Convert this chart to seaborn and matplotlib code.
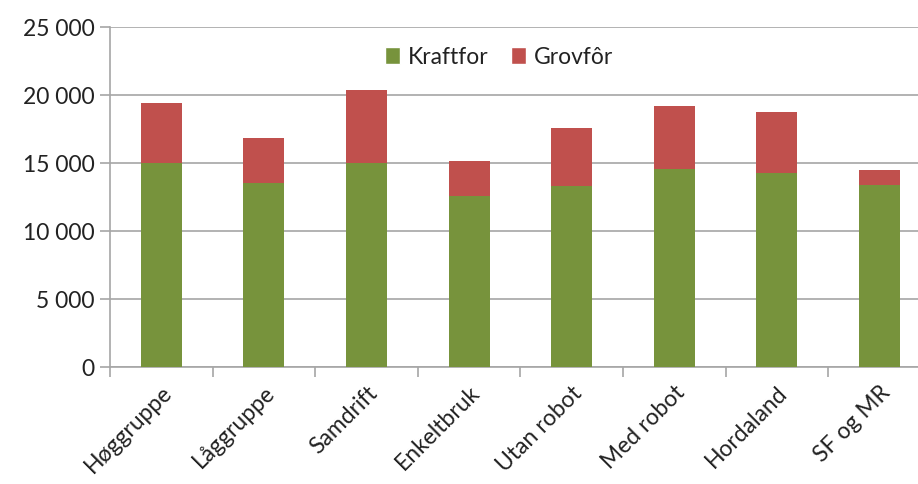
import matplotlib
matplotlib.use("Agg")
import matplotlib.pyplot as plt
import seaborn as sns
import pandas as pd
import numpy as np
from matplotlib.ticker import FuncFormatter, FixedLocator
from matplotlib.patches import Patch

categories = ["Høggruppe", "Låggruppe", "Samdrift", "Enkeltbruk", "Utan robot", "Med robot", "Hordaland", "SF og MR"]
kraftfor = [15000, 13520, 15020, 12570, 13350, 14550, 14280, 13430]
grovfor = [4450, 3310, 5390, 2620, 4240, 4630, 4510, 1100]
series_names = ["Kraftfor", "Grovfôr"]
yticks = [0, 5000, 10000, 15000, 20000, 25000]

green = "#77933C"
red = "#C0504D"

sns.set_style("white")
plt.rcParams['font.family'] = ['Lato', 'DejaVu Sans']

df = pd.DataFrame({"cat": categories, "Kraftfor": kraftfor, "Grovfor": grovfor})
df["total"] = df["Kraftfor"] + df["Grovfor"]

fig = plt.figure(figsize=(9.18, 4.84), dpi=100)
ax = fig.add_axes([110/918, 1 - 367/484, (8*102.6)/918, (367-27.3)/484])

sns.barplot(data=df, x="cat", y="total", color=red, saturation=1, width=0.4, ax=ax, zorder=3, linewidth=0)
sns.barplot(data=df, x="cat", y="Kraftfor", color=green, saturation=1, width=0.4, ax=ax, zorder=3, linewidth=0)

ax.set_xlim(-0.5, len(categories) - 0.5)
ax.set_ylim(0, 25000)
ax.set_yticks(yticks)
ax.yaxis.set_major_formatter(FuncFormatter(lambda v, p: f"{int(v):,}".replace(",", " ")))
ax.grid(axis="y", color="#a6a6a6", linewidth=1.2, zorder=0)
ax.set_axisbelow(True)
ax.set_xlabel("")
ax.set_ylabel("")

for s in ["top", "right"]:
    ax.spines[s].set_visible(False)
for s in ["left", "bottom"]:
    ax.spines[s].set_color("#a6a6a6")
    ax.spines[s].set_linewidth(1.2)

ax.tick_params(axis="y", which="major", length=7, color="#a6a6a6", width=1.2, labelsize=16.5, labelcolor="#222222", pad=4, direction="out", left=True)
ax.tick_params(axis="x", which="major", length=0, labelsize=16.5, labelcolor="#222222", pad=11)
ax.xaxis.set_minor_locator(FixedLocator(np.arange(-0.5, len(categories), 1.0)))
ax.tick_params(axis="x", which="minor", length=7, color="#a6a6a6", width=1.2, direction="out", bottom=True)
ax.set_xticks(range(len(categories)))
ax.set_xticklabels(categories, rotation=45, ha="right", rotation_mode="anchor")

handles = [Patch(facecolor=green, label=series_names[0]), Patch(facecolor=red, label=series_names[1])]
leg = fig.legend(handles=handles, loc="center", bbox_to_anchor=(499/918, 1 - 57/484), ncol=2, frameon=False,
                 fontsize=16.5, handlelength=0.65, handleheight=0.7, handletextpad=0.35, columnspacing=1.0)
for t in leg.get_texts():
    t.set_color("#222222")

fig.savefig("out.png", dpi=100)
